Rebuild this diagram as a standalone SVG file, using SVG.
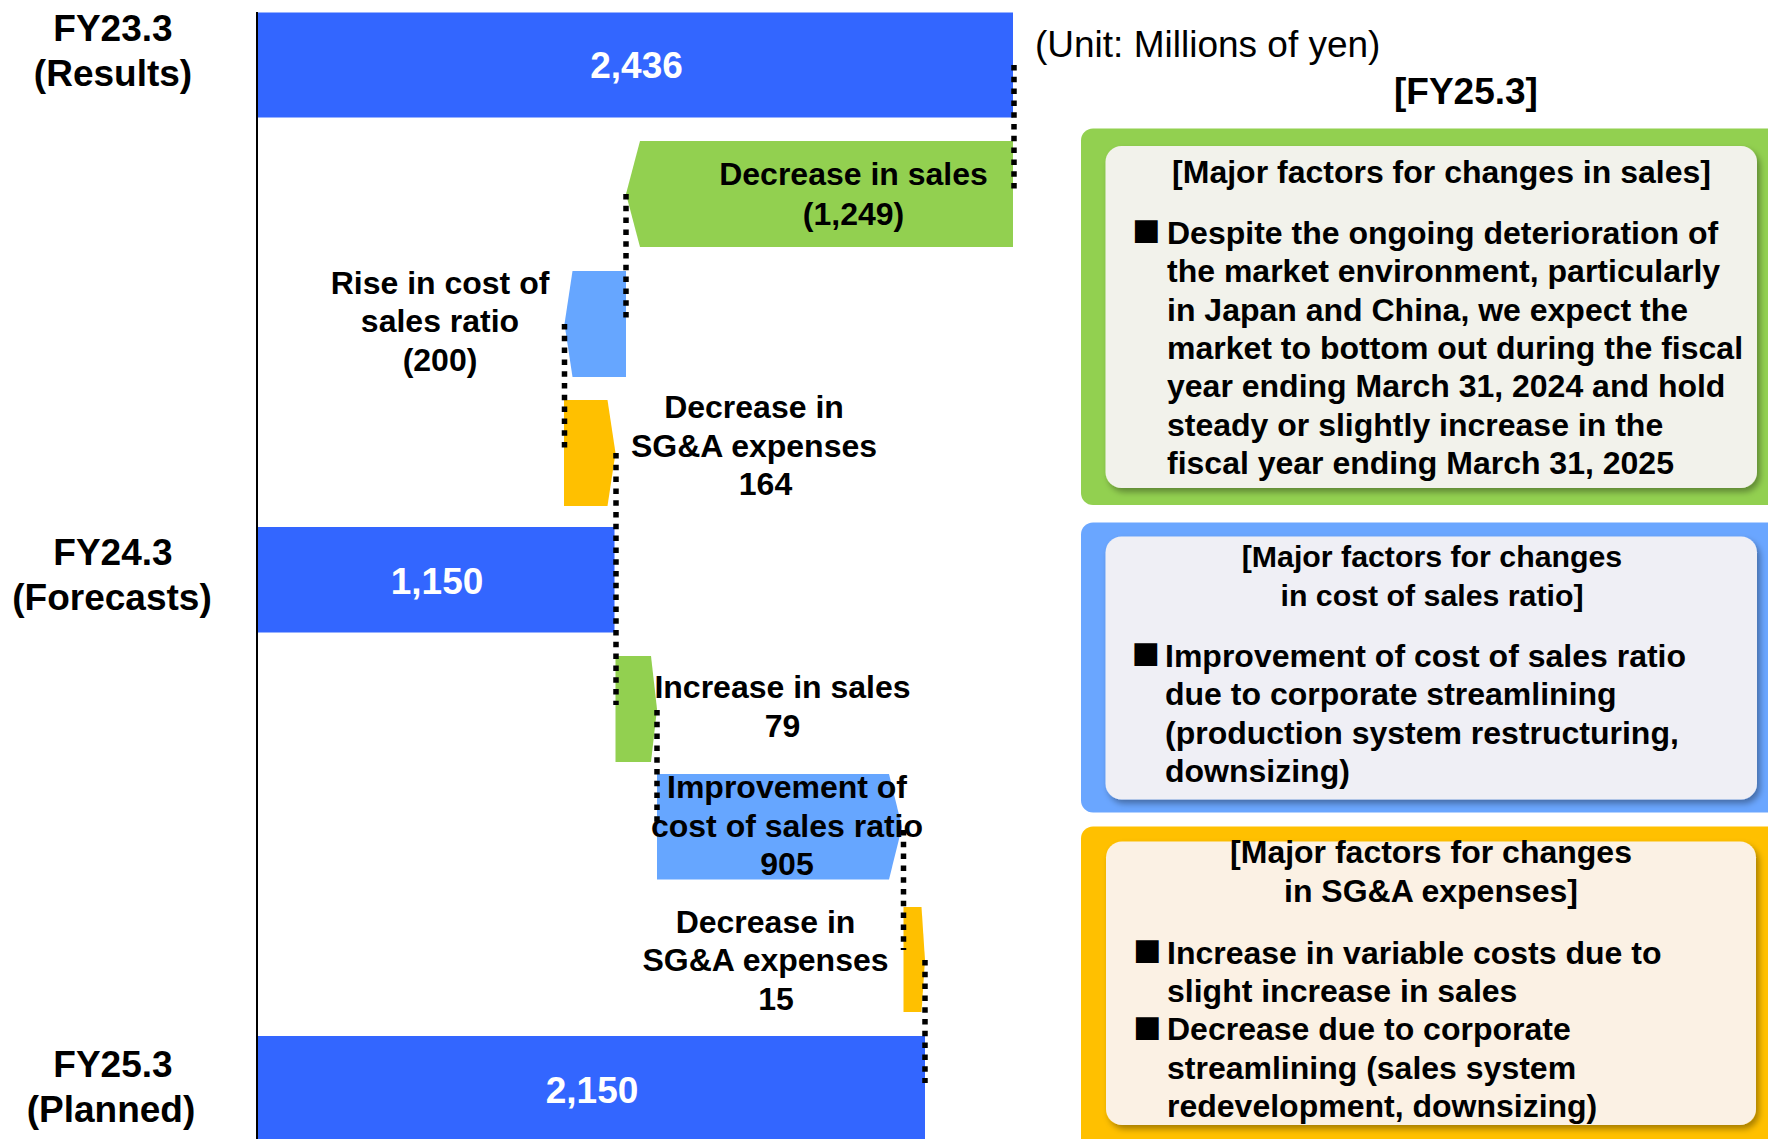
<svg xmlns="http://www.w3.org/2000/svg" width="1768" height="1139" viewBox="0 0 1768 1139">
  <defs>
    <style>
      text { font-family: "Liberation Sans", Arial, sans-serif; font-weight: bold; fill: #000; }
      .yr { font-size: 37px; text-anchor: middle; }
      .val { font-size: 37px; text-anchor: middle; fill: #fff; }
      .lbl { font-size: 32px; text-anchor: middle; }
      .body { font-size: 32px; }
      .ttl { font-size: 32px; text-anchor: middle; }
      .ttl-s { font-size: 30.3px; text-anchor: middle; }
      .bul { font-size: 47px; }
      .unit { font-size: 37px; font-weight: normal; }
      .bar { fill: #3366FF; }
      .g { fill: #92D050; }
      .lb { fill: #66A6FF; }
      .o { fill: #FFC000; }
      .dot { fill: none; stroke: #000; stroke-width: 5.5; stroke-dasharray: 5.5 6.3; }
    </style>
    <filter id="shadow" x="-5%" y="-5%" width="112%" height="115%">
      <feDropShadow dx="3" dy="4" stdDeviation="3" flood-color="#000" flood-opacity="0.35"/>
    </filter>
  </defs>

  <rect width="1768" height="1139" fill="#fff"/>

  <!-- vertical axis -->
  <line x1="257" y1="12" x2="257" y2="1139" stroke="#000" stroke-width="2"/>

  <!-- year labels -->
  <g id="label-fy23">
    <text class="yr" x="113" y="41">FY23.3</text>
    <text class="yr" x="113" y="85.5">(Results)</text>
  </g>
  <g id="label-fy24">
    <text class="yr" x="113" y="565">FY24.3</text>
    <text class="yr" x="112" y="609.5">(Forecasts)</text>
  </g>
  <g id="label-fy25">
    <text class="yr" x="113" y="1077">FY25.3</text>
    <text class="yr" x="111" y="1121.5">(Planned)</text>
  </g>

  <!-- totals -->
  <g id="bar-fy23">
    <rect class="bar" x="258" y="12.5" width="755" height="105"/>
    <text class="val" x="636.5" y="78">2,436</text>
  </g>
  <g id="bar-fy24">
    <rect class="bar" x="258" y="527" width="356.5" height="105.5"/>
    <text class="val" x="437" y="594">1,150</text>
  </g>
  <g id="bar-fy25">
    <rect class="bar" x="258" y="1036" width="667" height="103"/>
    <text class="val" x="592" y="1103">2,150</text>
  </g>

  <!-- FY23.3 -> FY24.3 steps -->
  <g id="step-sales-down">
    <polygon class="g" points="640,141 1013,141 1013,247 640,247 626,194"/>
    <text class="lbl" x="853.5" y="185">Decrease in sales</text>
    <text class="lbl" x="853.5" y="224.5">(1,249)</text>
  </g>
  <g id="step-cost-ratio-up">
    <polygon class="lb" points="572.5,271 626,271 626,377 572.5,377 564.5,324"/>
    <text class="lbl" x="440" y="293.5">Rise in cost of</text>
    <text class="lbl" x="440" y="332">sales ratio</text>
    <text class="lbl" x="440" y="370.5">(200)</text>
  </g>
  <g id="step-sga-down-1">
    <polygon class="o" points="564,400 607.5,400 615.5,453 607.5,506 564,506"/>
    <text class="lbl" x="754" y="418">Decrease in</text>
    <text class="lbl" x="754" y="457">SG&amp;A expenses</text>
    <text class="lbl" x="765.5" y="495">164</text>
  </g>

  <!-- FY24.3 -> FY25.3 steps -->
  <g id="step-sales-up">
    <polygon class="g" points="615.5,656 651,656 657,709 651,762 615.5,762"/>
    <text class="lbl" x="782.5" y="698">Increase in sales</text>
    <text class="lbl" x="782.5" y="736.5">79</text>
  </g>
  <g id="step-cost-ratio-down">
    <polygon class="lb" points="657,774 889,774 902,827 889,879.5 657,879.5"/>
    <text class="lbl" x="787" y="798">Improvement of</text>
    <text class="lbl" x="787" y="836.5">cost of sales ratio</text>
    <text class="lbl" x="787" y="875">905</text>
  </g>
  <g id="step-sga-down-2">
    <polygon class="o" points="903.5,907 921.5,907 925,960 921.5,1012 903.5,1012"/>
    <text class="lbl" x="765.5" y="932.5">Decrease in</text>
    <text class="lbl" x="765.5" y="971">SG&amp;A expenses</text>
    <text class="lbl" x="776" y="1009.5">15</text>
  </g>

  <!-- dotted step connectors -->
  <g id="connectors">
    <line class="dot" x1="1014" y1="65" x2="1014" y2="190"/>
    <line class="dot" x1="626" y1="194" x2="626" y2="319"/>
    <line class="dot" x1="564.5" y1="324" x2="564.5" y2="449"/>
    <line class="dot" x1="616" y1="453" x2="616" y2="705"/>
    <line class="dot" x1="657" y1="710" x2="657" y2="822"/>
    <line class="dot" x1="903.5" y1="830" x2="903.5" y2="950"/>
    <line class="dot" x1="925" y1="960" x2="925" y2="1083"/>
  </g>

  <!-- headings -->
  <text class="unit" x="1035" y="56.5">(Unit: Millions of yen)</text>
  <text x="1394" y="103.5" style="font-size:37px">[FY25.3]</text>

  <!-- factor panels -->
  <g id="panel-sales">
    <rect x="1081" y="128.5" width="710" height="376.5" rx="12" fill="#92D050"/>
    <rect x="1105.5" y="146" width="651.5" height="342" rx="16" fill="#F2F2EB" filter="url(#shadow)"/>
    <text class="ttl" x="1441.5" y="183">[Major factors for changes in sales]</text>
    <text class="bul" x="1132" y="246">■</text>
    <text class="body" x="1167">
      <tspan x="1167" y="243.5">Despite the ongoing deterioration of</tspan>
      <tspan x="1167" y="282">the market environment, particularly</tspan>
      <tspan x="1167" y="320.5">in Japan and China, we expect the</tspan>
      <tspan x="1167" y="359">market to bottom out during the fiscal</tspan>
      <tspan x="1167" y="397">year ending March 31, 2024 and hold</tspan>
      <tspan x="1167" y="435.5">steady or slightly increase in the</tspan>
      <tspan x="1167" y="474">fiscal year ending March 31, 2025</tspan>
    </text>
  </g>

  <g id="panel-cost-ratio">
    <rect x="1081" y="522.5" width="710" height="290" rx="12" fill="#6AA6FF"/>
    <rect x="1105.5" y="536.5" width="651.5" height="263" rx="16" fill="#EFEFF5" filter="url(#shadow)"/>
    <text class="ttl-s" x="1432" y="567">[Major factors for changes</text>
    <text class="ttl-s" x="1432" y="606">in cost of sales ratio]</text>
    <text class="bul" x="1131.5" y="669">■</text>
    <text class="body">
      <tspan x="1165" y="666.5">Improvement of cost of sales ratio</tspan>
      <tspan x="1165" y="705">due to corporate streamlining</tspan>
      <tspan x="1165" y="743.5">(production system restructuring,</tspan>
      <tspan x="1165" y="782">downsizing)</tspan>
    </text>
  </g>

  <g id="panel-sga">
    <rect x="1081" y="826.5" width="710" height="330" rx="12" fill="#FFC000"/>
    <rect x="1106" y="841.5" width="650" height="283.5" rx="16" fill="#FBF1E4" filter="url(#shadow)"/>
    <text class="ttl" x="1431" y="863">[Major factors for changes</text>
    <text class="ttl" x="1431" y="901.5">in SG&amp;A expenses]</text>
    <text class="bul" x="1133" y="966">■</text>
    <text class="bul" x="1133" y="1042.5">■</text>
    <text class="body">
      <tspan x="1167" y="963.5">Increase in variable costs due to</tspan>
      <tspan x="1167" y="1002">slight increase in sales</tspan>
      <tspan x="1167" y="1040">Decrease due to corporate</tspan>
      <tspan x="1167" y="1078.5">streamlining (sales system</tspan>
      <tspan x="1167" y="1116.5">redevelopment, downsizing)</tspan>
    </text>
  </g>
</svg>
